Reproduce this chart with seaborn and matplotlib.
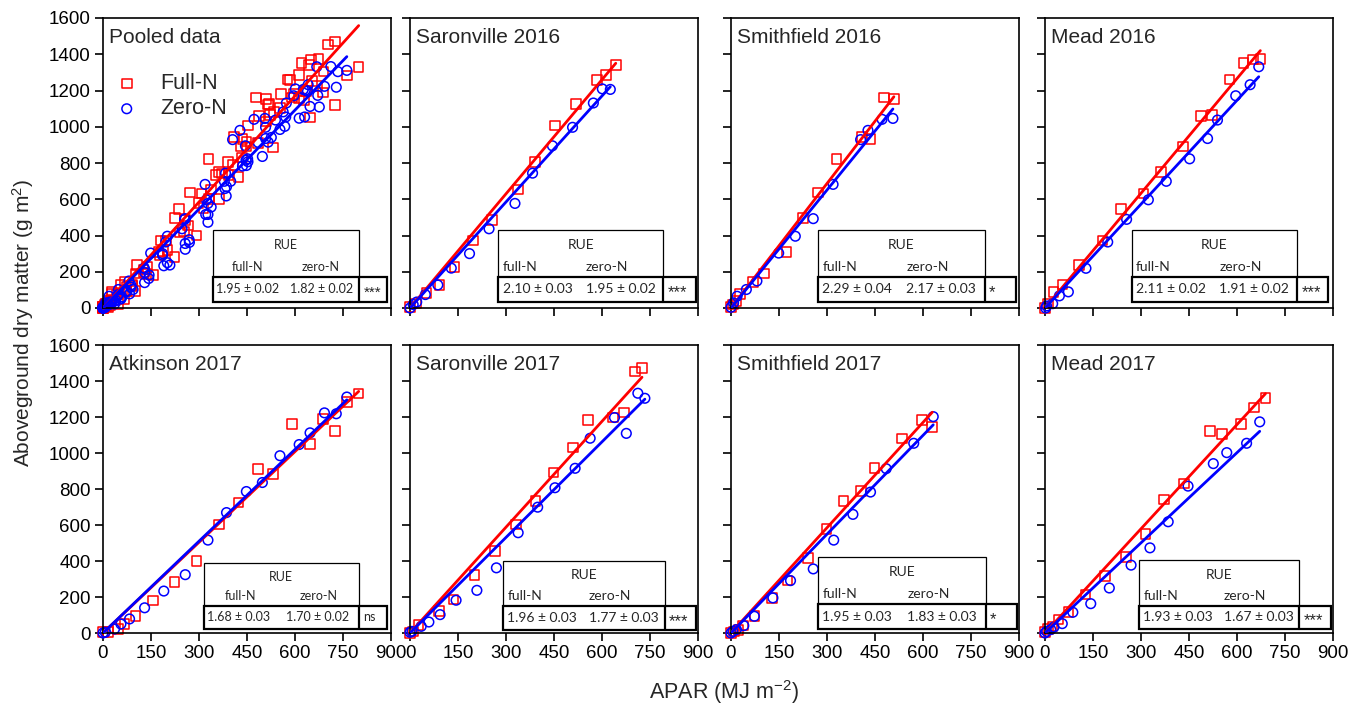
"""
Radiation use efficiency panels: aboveground dry matter vs APAR,
full-N vs zero-N, pooled plus each site-year.
"""

import numpy as np
import pandas as pd
import matplotlib
matplotlib.use("Agg")
import matplotlib.pyplot as plt
import seaborn as sns
from matplotlib.patches import Rectangle

# ---- data (APAR in MJ m-2, dry matter in g m-2) ----
sar16_full_x = [0, 19, 52, 92, 139, 197, 257, 338, 390, 453, 519, 584, 613, 643]
sar16_full_y = [6, 24, 84, 127, 225, 372, 486, 653, 806, 1007, 1126, 1258, 1284, 1340]
sar16_zero_x = [0, 10, 21, 48, 87, 129, 186, 247, 328, 383, 445, 508, 573, 601, 626]
sar16_zero_y = [0, 19, 33, 74, 127, 220, 300, 437, 577, 744, 895, 997, 1131, 1209, 1206]

smi16_full_x = [0, 6, 17, 29, 69, 104, 173, 225, 271, 330, 410, 436, 478, 509]
smi16_full_y = [4, 19, 37, 78, 143, 190, 310, 496, 638, 822, 942, 933, 1162, 1152]
smi16_zero_x = [0, 8, 19, 48, 81, 149, 201, 257, 319, 405, 428, 472, 506]
smi16_zero_y = [4, 28, 65, 102, 149, 303, 396, 493, 682, 929, 980, 1041, 1046]

mea16_full_x = [0, 10, 26, 55, 107, 180, 237, 308, 362, 431, 487, 521, 576, 620, 650, 673]
mea16_full_y = [0, 24, 89, 130, 238, 372, 545, 632, 749, 892, 1059, 1065, 1260, 1353, 1372, 1375]
mea16_zero_x = [2, 5, 24, 45, 73, 128, 196, 255, 323, 379, 452, 508, 539, 596, 641, 668]
mea16_zero_y = [0, 11, 24, 67, 89, 219, 364, 489, 597, 699, 823, 935, 1037, 1171, 1232, 1331]

atk17_full_x = [0, 15, 46, 67, 101, 156, 224, 292, 363, 424, 485, 532, 590, 647, 687, 725, 762, 799]
atk17_full_y = [4, 6, 22, 50, 93, 181, 283, 400, 603, 724, 911, 885, 1162, 1050, 1190, 1121, 1283, 1330]
atk17_zero_x = [0, 7, 36, 56, 83, 130, 190, 257, 328, 386, 448, 498, 553, 613, 647, 692, 729, 762]
atk17_zero_y = [0, 4, 22, 50, 78, 140, 233, 324, 516, 669, 786, 836, 985, 1047, 1112, 1223, 1218, 1311]

sar17_full_x = [0, 10, 27, 90, 136, 202, 265, 331, 392, 448, 509, 556, 634, 668, 704, 725]
sar17_full_y = [0, 9, 46, 121, 186, 321, 455, 603, 733, 891, 1030, 1182, 1197, 1224, 1453, 1471]
sar17_zero_x = [0, 6, 35, 59, 94, 144, 209, 270, 338, 399, 453, 516, 563, 639, 676, 712, 734]
sar17_zero_y = [4, 9, 37, 61, 102, 182, 237, 362, 557, 699, 807, 915, 1082, 1197, 1109, 1332, 1304]

smi17_full_x = [0, 10, 24, 38, 74, 128, 177, 240, 298, 352, 407, 448, 535, 597, 629]
smi17_full_y = [0, 9, 15, 41, 93, 195, 291, 417, 579, 733, 788, 918, 1080, 1182, 1145]
smi17_zero_x = [0, 6, 17, 40, 73, 131, 186, 257, 321, 381, 436, 485, 571, 632]
smi17_zero_y = [0, 9, 19, 41, 93, 195, 291, 356, 516, 659, 783, 913, 1054, 1202]

mea17_full_x = [0, 10, 24, 42, 73, 126, 188, 254, 314, 371, 434, 515, 553, 612, 654, 689]
mea17_full_y = [4, 22, 37, 74, 115, 213, 315, 423, 551, 742, 831, 1122, 1104, 1160, 1252, 1304]
mea17_zero_x = [0, 5, 18, 28, 54, 87, 143, 201, 269, 328, 385, 447, 526, 568, 630, 671]
mea17_zero_y = [0, 9, 19, 33, 52, 115, 163, 250, 377, 473, 618, 816, 941, 1002, 1054, 1173]

panel_titles = ["Pooled data", "Saronville 2016", "Smithfield 2016", "Mead 2016",
                "Atkinson 2017", "Saronville 2017", "Smithfield 2017", "Mead 2017"]
rue_full = [1.95, 2.10, 2.29, 2.11, 1.68, 1.96, 1.95, 1.93]
rue_full_se = [0.02, 0.03, 0.04, 0.02, 0.03, 0.03, 0.03, 0.03]
rue_zero = [1.82, 1.95, 2.17, 1.91, 1.70, 1.77, 1.83, 1.67]
rue_zero_se = [0.02, 0.02, 0.03, 0.02, 0.02, 0.03, 0.03, 0.03]
signif = ["***", "***", "*", "***", "ns", "***", "*", "***"]

x_ticks = [0, 150, 300, 450, 600, 750, 900]
y_ticks = [0, 200, 400, 600, 800, 1000, 1200, 1400, 1600]

FULL_COLOR = "#ff0000"
ZERO_COLOR = "#0000ff"


def build_frame():
    site_arrays = [
        ("Saronville 2016", sar16_full_x, sar16_full_y, sar16_zero_x, sar16_zero_y),
        ("Smithfield 2016", smi16_full_x, smi16_full_y, smi16_zero_x, smi16_zero_y),
        ("Mead 2016", mea16_full_x, mea16_full_y, mea16_zero_x, mea16_zero_y),
        ("Atkinson 2017", atk17_full_x, atk17_full_y, atk17_zero_x, atk17_zero_y),
        ("Saronville 2017", sar17_full_x, sar17_full_y, sar17_zero_x, sar17_zero_y),
        ("Smithfield 2017", smi17_full_x, smi17_full_y, smi17_zero_x, smi17_zero_y),
        ("Mead 2017", mea17_full_x, mea17_full_y, mea17_zero_x, mea17_zero_y),
    ]
    rows = []
    for site, fx, fy, zx, zy in site_arrays:
        rows.append(pd.DataFrame({"site": site, "trt": "Full-N", "apar": fx, "dm": fy}))
        rows.append(pd.DataFrame({"site": site, "trt": "Zero-N", "apar": zx, "dm": zy}))
    return pd.concat(rows, ignore_index=True)


def draw_table(ax, i, geom, fs):
    """Little RUE box in the lower right of each panel"""
    x0, x1, x2, yt, ym, yb = geom
    tr = ax.transAxes
    ax.add_patch(Rectangle((x0, ym), x1 - x0, yt - ym, transform=tr,
                           facecolor="white", edgecolor="black", lw=0.9, zorder=6))
    ax.add_patch(Rectangle((x0, yb), x2 - x0, ym - yb, transform=tr,
                           facecolor="white", edgecolor="black", lw=1.6, zorder=7))
    ax.plot([x1, x1], [yb, ym], transform=tr, color="black", lw=1.6, zorder=8)

    tfont = dict(family=["Lato", "DejaVu Sans"], fontsize=fs, zorder=9, transform=tr)
    w = x1 - x0
    v1 = x0 + 0.025 * w
    v2 = x0 + 0.53 * w
    ax.text((x0 + x1) / 2, yt - 0.32 * (yt - ym), "RUE", ha="center", va="center", **tfont)
    yh = yt - 0.78 * (yt - ym)
    if i % 4 == 0:
        # first column: headers centred over the numbers
        ax.text(v1 + 0.21 * w, yh, "full-N", ha="center", va="center", **tfont)
        ax.text(v2 + 0.21 * w, yh, "zero-N", ha="center", va="center", **tfont)
    else:
        ax.text(v1, yh, "full-N", ha="left", va="center", **tfont)
        ax.text(v2, yh, "zero-N", ha="left", va="center", **tfont)
    yv = (ym + yb) / 2
    ax.text(v1, yv, f"{rue_full[i]:.2f} ± {rue_full_se[i]:.2f}", ha="left", va="center", **tfont)
    ax.text(v2, yv, f"{rue_zero[i]:.2f} ± {rue_zero_se[i]:.2f}", ha="left", va="center", **tfont)
    if signif[i] == "ns":
        ax.text(x1 + 0.015, yv, signif[i], ha="left", va="center", **tfont)
    else:
        # asterisks sit high in the glyph box, nudge them down a touch
        ax.text(x1 + 0.015, yv - 0.012, signif[i], ha="left", va="center",
                family=["Liberation Sans", "DejaVu Sans"], fontsize=fs + 2,
                zorder=9, transform=tr)


def main():
    df = build_frame()

    sns.set_style("ticks")
    plt.rcParams["font.family"] = ["Liberation Sans", "DejaVu Sans"]
    plt.rcParams["mathtext.fontset"] = "custom"
    plt.rcParams["mathtext.rm"] = "Liberation Sans"
    plt.rcParams["mathtext.it"] = "Liberation Sans:italic"

    fig = plt.figure(figsize=(13.62, 7.10), dpi=100)
    W, H = 1362, 710
    lefts = [103, 410, 731, 1045]
    rows = [(18, 308), (345, 633)]

    # table boxes (axes fractions): x0, x1, x2, y_top, y_mid, y_bot
    table_geom = [
        (0.381, 0.889, 0.986, 0.269, 0.107, 0.021),
        (0.307, 0.880, 0.993, 0.269, 0.107, 0.021),
        (0.303, 0.881, 0.990, 0.269, 0.107, 0.021),
        (0.302, 0.875, 0.983, 0.269, 0.107, 0.021),
        (0.349, 0.889, 0.986, 0.243, 0.094, 0.014),
        (0.324, 0.885, 0.993, 0.250, 0.094, 0.012),
        (0.303, 0.885, 0.993, 0.264, 0.100, 0.014),
        (0.328, 0.882, 0.993, 0.253, 0.094, 0.014),
    ]

    for i, title in enumerate(panel_titles):
        r, c = divmod(i, 4)
        top, bot = rows[r]
        ax = fig.add_axes([lefts[c] / W, (H - bot) / H, 288 / W, (bot - top) / H])

        sub = df if title == "Pooled data" else df[df["site"] == title]
        full = sub[sub["trt"] == "Full-N"]
        zero = sub[sub["trt"] == "Zero-N"]

        sns.scatterplot(x=full["apar"].values, y=full["dm"].values, ax=ax, marker="s",
                        s=48, color=FULL_COLOR, facecolor="none", edgecolor=FULL_COLOR,
                        linewidth=1.1, clip_on=False, zorder=2, label="Full-N")
        sns.scatterplot(x=zero["apar"].values, y=zero["dm"].values, ax=ax, marker="o",
                        s=48, color=ZERO_COLOR, facecolor="none", edgecolor=ZERO_COLOR,
                        linewidth=1.1, clip_on=False, zorder=2, label="Zero-N")

        # fitted lines through the origin, slope = RUE
        for grp, slope, col in [(full, rue_full[i], FULL_COLOR), (zero, rue_zero[i], ZERO_COLOR)]:
            xs = np.array([0.0, grp["apar"].max()])
            sns.lineplot(x=xs, y=slope * xs, ax=ax, color=col, lw=2.0, zorder=3)

        ax.set_xlim(0, 900)
        ax.set_ylim(0, 1600)
        ax.set_xticks(x_ticks)
        ax.set_yticks(y_ticks)
        ax.tick_params(direction="out", length=6, width=1.2, labelsize=13.5,
                       colors="black", pad=3)
        if r == 0:
            ax.set_xticklabels([])
        if c != 0:
            ax.set_yticklabels([])
        for sp in ax.spines.values():
            sp.set_visible(True)
            sp.set_linewidth(1.2)
            sp.set_color("black")
        ax.set_xlabel("")
        ax.set_ylabel("")

        ax.text(0.022, 0.965, title, transform=ax.transAxes, ha="left", va="top",
                fontsize=15, zorder=10)

        if i == 0:
            ax.legend(loc="upper left", bbox_to_anchor=(0.045, 0.81), frameon=False,
                      fontsize=15.5, handlelength=1.0, handletextpad=1.05,
                      labelspacing=0.2, borderpad=0, borderaxespad=0)
        else:
            leg = ax.get_legend()
            if leg is not None:
                leg.remove()

        draw_table(ax, i, table_geom[i], 9 if c == 0 else 10)

    fig.text(23 / W, 1 - 323 / H, "Aboveground dry matter (g m$^2$)", rotation=90,
             ha="center", va="center", fontsize=15)
    fig.text(724 / W, 1 - 692 / H, "APAR (MJ m$^{-2}$)", ha="center", va="center",
             fontsize=15.5)

    fig.savefig("out.png", dpi=100)
    plt.close(fig)


if __name__ == "__main__":
    main()
